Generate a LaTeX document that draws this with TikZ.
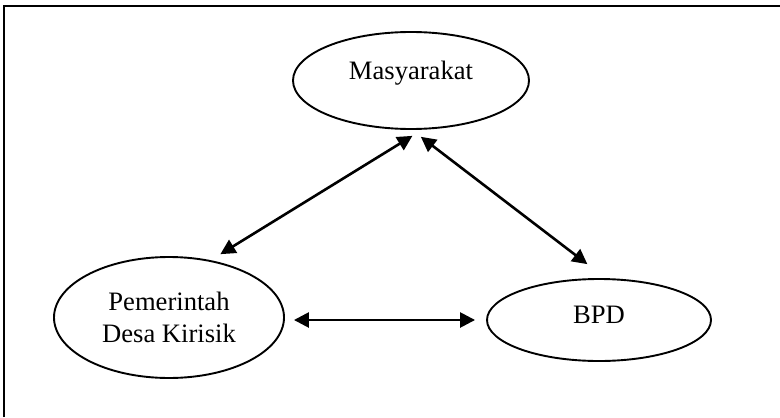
\documentclass[tikz,border=0pt]{standalone}
\usepackage{fontspec}
\setmainfont{Liberation Serif}
\usetikzlibrary{arrows.meta, positioning, shapes.geometric}

\tikzset{
    pihak/.style={ellipse, draw, line width=0.95pt, inner sep=0pt, align=center, font=\fontsize{13.3}{16}\selectfont},
    hubungan/.style={{Triangle[length=7.5pt, width=7.5pt]}-{Triangle[length=7.5pt, width=7.5pt]}, line width=1.3pt}
}

\begin{document}
\begin{tikzpicture}[x=0.5pt, y=-0.5pt]
    \useasboundingbox (0,0) rectangle (780,417);
    % bingkai
    \draw[line width=1.2pt] (4,417) -- (4,6) -- (780,6);

    % pihak
    \node[pihak, minimum width=118pt, minimum height=48.5pt, text depth=10.5pt] (masy) at (411,80.5) {Masyarakat};
    \node[pihak, minimum width=115pt, minimum height=60.5pt] (peme) at (169,317.5) {Pemerintah\\Desa Kirisik};
    \node[pihak, minimum width=112pt, minimum height=41pt, text depth=5pt] (bpd) at (599,320) {BPD};

    % hubungan
    \draw[hubungan, shorten <=5.7pt, shorten >=5.85pt] (peme.54) -- (masy.-77);
    \draw[hubungan, shorten <=5.65pt, shorten >=11.5pt] (masy.-89) -- (bpd.81);
    \draw[hubungan, shorten <=4.5pt, shorten >=5.5pt] (bpd.west -| peme.east) -- (bpd.west);
\end{tikzpicture}
\end{document}
